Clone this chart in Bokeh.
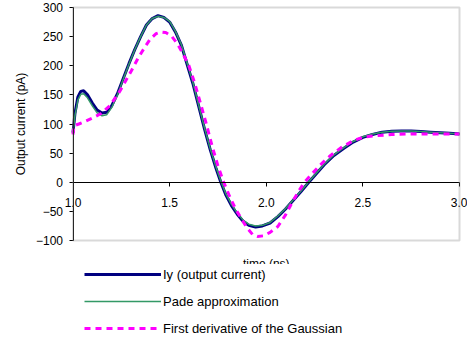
from bokeh.plotting import figure
from bokeh.models import (LinearAxis, FixedTicker, PrintfTickFormatter, Legend,
                          LegendItem, Label, Range1d, BoxAnnotation)
from bokeh.embed import file_html
from bokeh.resources import INLINE

# ---- data ----
iy_x = [1.000, 1.010, 1.025, 1.040, 1.055, 1.075, 1.100, 1.125, 1.150, 1.175,
        1.200, 1.230, 1.260, 1.290, 1.320, 1.350, 1.380, 1.410, 1.440, 1.470,
        1.500, 1.530, 1.560, 1.590, 1.620, 1.650, 1.680, 1.710, 1.740, 1.765,
        1.790, 1.820, 1.850, 1.880, 1.910, 1.945, 1.980, 2.020, 2.060, 2.100,
        2.140, 2.180, 2.220, 2.260, 2.300, 2.350, 2.400, 2.450, 2.500, 2.550,
        2.600, 2.650, 2.700, 2.750, 2.800, 2.850, 2.900, 2.950, 3.000]
iy_y = [85, 118, 146, 156, 157, 150, 136, 124, 119, 120,
        131, 152, 178, 204, 228, 250, 270, 281, 286, 283,
        275, 258, 236, 203, 170, 131, 92, 56, 24, 0,
        -21, -40, -55, -67, -74, -77, -75, -70, -59, -46,
        -31, -16, 0, 15, 30, 46, 58, 69, 77, 82,
        86, 87.5, 88, 88, 87, 86, 85, 84, 83]

pade_x = iy_x
pade_y = [85, 114, 141, 151, 152, 145, 131, 119, 114, 116,
          128, 150, 177, 203, 228, 250, 270, 281, 285, 283,
          276, 259, 237, 205, 172, 133, 94, 58, 26, 2,
          -19, -38, -53, -65, -72, -75, -74, -69, -58, -45,
          -30, -15, 1, 16, 31, 47, 59, 70, 78, 83,
          86, 87.5, 88, 88, 87, 86, 85, 84, 83]

gauss_x = [1.000, 1.005, 1.030, 1.060, 1.100, 1.145, 1.190, 1.240, 1.300, 1.340,
           1.370, 1.400, 1.430, 1.455, 1.480, 1.510, 1.540, 1.570, 1.600, 1.630,
           1.660, 1.690, 1.720, 1.750, 1.780, 1.810, 1.840, 1.870, 1.900, 1.930,
           1.955, 1.985, 2.020, 2.060, 2.100, 2.135, 2.170, 2.200, 2.230, 2.280,
           2.333, 2.390, 2.454, 2.510, 2.575, 2.650, 2.750, 2.850, 3.000]
gauss_y = [82, 97, 100, 104, 110, 118, 131, 155, 190, 215,
           231, 246, 255, 258, 257, 251, 238, 220, 200, 170,
           135, 100, 62, 28, 0, -24, -45, -62, -78, -90,
           -93, -92, -86, -76, -56, -34, -14, 1, 12, 30,
           46, 60, 72, 78, 80, 82, 83, 83, 83]

x_ticks = [1.0, 1.5, 2.0, 2.5, 3.0]
y_ticks = [-100, -50, 0, 50, 100, 150, 200, 250, 300]
X_MIN, X_MAX = 1.0, 3.0
Y_MIN, Y_MAX = -100, 300

FONT = "Liberation Sans"

# ---- layout (page pixels; the page body has no margin) ----
OX, OY = 0, 0
W, H = 467, 343
PX_X0, PX_X1 = 72.5, 459   # page x of X_MIN / X_MAX
PX_Y1, PX_Y0 = 7, 240      # page y of Y_MAX / Y_MIN
sx = (PX_X1 - PX_X0) / (X_MAX - X_MIN)
sy = (PX_Y0 - PX_Y1) / (Y_MAX - Y_MIN)
xr = Range1d(X_MIN - (PX_X0 - OX) / sx, X_MAX + (OX + W - PX_X1) / sx)
yr = Range1d(Y_MIN - (OY + H - PX_Y0) / sy, Y_MAX + (PX_Y1 - OY) / sy)

p = figure(width=W, height=H, output_backend="svg", toolbar_location=None,
           x_range=xr, y_range=yr, x_axis_type=None, y_axis_type=None,
           min_border=0)
p.outline_line_color = None
p.background_fill_color = "white"
p.border_fill_color = "white"

frame_box = BoxAnnotation(left=X_MIN, right=X_MAX, bottom=Y_MIN, top=Y_MAX,
                          fill_color=None, line_color="#808080", line_width=2)
p.add_layout(frame_box)

ya = LinearAxis(fixed_location=X_MIN, ticker=FixedTicker(ticks=y_ticks),
                bounds=(Y_MIN, Y_MAX))
ya.axis_label = "Output current (pA)"
ya.axis_label_text_font = FONT
ya.axis_label_text_font_size = "12px"
ya.axis_label_text_font_style = "normal"
ya.axis_label_text_color = "black"
ya.axis_label_standoff = 5
ya.major_label_text_font = FONT
ya.major_label_text_font_size = "12px"
ya.major_label_text_color = "black"
ya.major_label_standoff = 6
ya.major_tick_in = 0
ya.major_tick_out = 4
ya.major_tick_line_color = "black"
ya.minor_tick_line_color = None
ya.axis_line_color = "black"
p.add_layout(ya, "left")

xa = LinearAxis(fixed_location=0, ticker=FixedTicker(ticks=x_ticks),
                formatter=PrintfTickFormatter(format="%.1f"),
                bounds=(X_MIN, X_MAX))
xa.major_tick_in = 0
xa.major_tick_out = 4
xa.major_tick_line_color = "black"
xa.minor_tick_line_color = None
xa.major_label_standoff = 12
xa.major_label_text_font = FONT
xa.major_label_text_font_size = "12px"
xa.major_label_text_color = "black"
xa.axis_line_color = "black"
p.add_layout(xa, "below")

r_iy = p.line(iy_x, iy_y, line_color="#000080", line_width=3)
r_pade = p.line(pade_x, pade_y, line_color="#339966", line_width=1.5)
r_g = p.line(gauss_x, gauss_y, line_color="#FF00FF", line_width=3, line_dash="6 5")

# x-axis title, largely hidden behind the legend as in the reference
tlabel = Label(x=(X_MIN + X_MAX) / 2, y=Y_MIN, y_offset=-16, text="time (ns)",
               text_align="center", text_baseline="top", text_font=FONT,
               text_font_size="12px", text_color="black", level="underlay")
p.add_layout(tlabel)

legend = Legend(items=[
    LegendItem(label="Iy (output current)", renderers=[r_iy]),
    LegendItem(label="Pade approximation", renderers=[r_pade]),
    LegendItem(label="First derivative of the Gaussian", renderers=[r_g]),
], location=(84, 5))
legend.padding = 6
legend.margin = 0
legend.spacing = 7
legend.glyph_width = 77
legend.glyph_height = 20
legend.label_height = 20
legend.label_standoff = 2
legend.label_text_font = FONT
legend.label_text_font_size = "13px"
legend.label_text_color = "black"
legend.border_line_color = None
legend.background_fill_color = "white"
legend.background_fill_alpha = 1.0
p.add_layout(legend, "center")

open("out.html", "w").write(file_html(p, INLINE))
